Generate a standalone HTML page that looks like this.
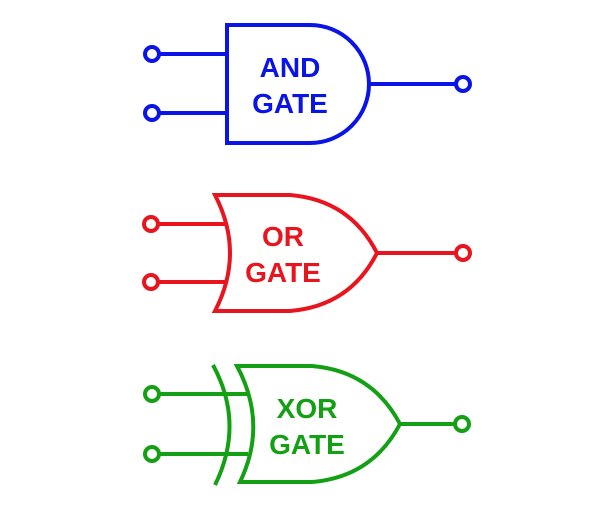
<!DOCTYPE html>
<html><head><style>html,body{margin:0;padding:0;background:#fff}</style></head><body>
<svg width="610" height="510" viewBox="0 0 610 510" xmlns="http://www.w3.org/2000/svg" font-family="Liberation Sans, sans-serif" font-weight="bold" font-size="28" text-anchor="middle">
<g stroke="#0a14e6" stroke-width="4" fill="none">
<path d="M227 25 H310 A59 59 0 0 1 310 143 H227 Z"/>
<line x1="159" y1="54" x2="227" y2="54"/><line x1="159" y1="113" x2="227" y2="113"/>
<line x1="370" y1="84" x2="456" y2="84"/>
<circle cx="152" cy="54" r="7"/><circle cx="152" cy="113" r="7"/><circle cx="463" cy="84" r="7"/>
</g>
<g fill="#0a14e6"><text x="290" y="77">AND</text><text x="290" y="113">GATE</text></g>

<g stroke="#e8141e" stroke-width="4" fill="none">
<path d="M215 195 H290 Q350 200 377 253 Q350 306 290 311 H215 Q245 253 215 195 Z"/>
<line x1="158" y1="224" x2="226" y2="224"/><line x1="158" y1="282" x2="226" y2="282"/>
<line x1="377" y1="253" x2="456" y2="253"/>
<circle cx="151" cy="224" r="7"/><circle cx="151" cy="282" r="7"/><circle cx="463" cy="253" r="7"/>
</g>
<g fill="#e8141e"><text x="283" y="246">OR</text><text x="283" y="282">GATE</text></g>

<g stroke="#14a014" stroke-width="4" fill="none">
<path d="M237 366 H312 Q372 371 400 424 Q372 477 312 482 H240 Q268 424 237 366 Z"/>
<path d="M213 365 Q245 424 215 485"/>
<line x1="159" y1="394" x2="248" y2="394"/><line x1="159" y1="454" x2="248" y2="454"/>
<line x1="400" y1="424" x2="455" y2="424"/>
<circle cx="152" cy="394" r="7"/><circle cx="152" cy="454" r="7"/><circle cx="462" cy="424" r="7"/>
</g>
<g fill="#14a014"><text x="307" y="418">XOR</text><text x="307" y="454">GATE</text></g>
</svg>
</body></html>
